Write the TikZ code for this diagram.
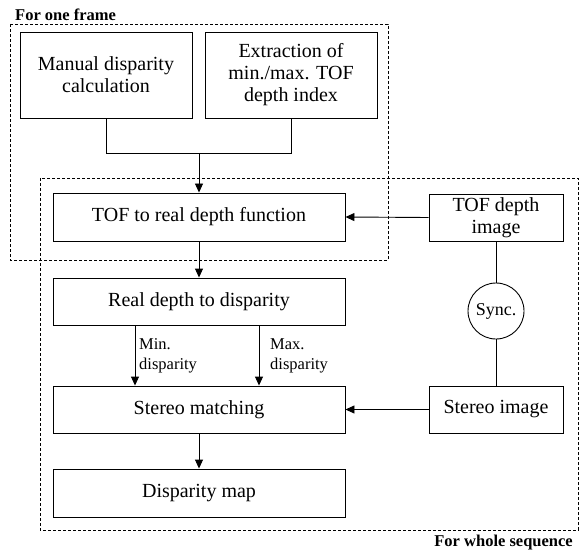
\documentclass[tikz,border=0pt]{standalone}
\usepackage{fontspec}
\setmainfont{Liberation Serif}
\usetikzlibrary{arrows.meta,calc}
\begin{document}
\begin{tikzpicture}[x=1pt,y=-1pt,
  box/.style={draw,line width=0.9pt,inner sep=0pt,align=center,font=\fontsize{20}{22}\selectfont},
  frame/.style={draw,line width=0.7pt,dash pattern=on 3pt off 2pt},
  conn/.style={line width=0.9pt},
  arr/.style={line width=0.9pt,-{Triangle[length=9pt,width=8pt]}},
  lab/.style={inner sep=0pt,align=left,anchor=north west,font=\fontsize{16.5}{20}\selectfont},
  ttl/.style={inner sep=0pt,font=\fontsize{16.5}{20}\selectfont\bfseries}]
\useasboundingbox (0,0) rectangle (588,553);
% frames
\draw[frame] (10,24) rectangle (388,260);
\draw[frame] (40,178) rectangle (578,530);
\node[ttl,anchor=base west] (t1) at (15,21) {For one frame};
\node[ttl,anchor=base east] (t2) at (573,546) {For whole sequence};
% boxes
\node[box,minimum width=172pt,minimum height=86pt] (man) at (106,75) {Manual disparity\\calculation};
\node[box,minimum width=172pt,minimum height=86pt] (ext) at (291,75) {Extraction of\\min./max. TOF\\depth index};
\node[box,minimum width=292pt,minimum height=48pt] (tof) at (199,217) {TOF to real depth function};
\node[box,minimum width=134pt,minimum height=47pt] (tofimg) at (496,217.5) {TOF depth\\image};
\node[box,minimum width=292pt,minimum height=47pt] (rd) at (199,301.5) {Real depth to disparity};
\node[box,minimum width=292pt,minimum height=47pt] (sm) at (199,409.5) {Stereo matching};
\node[box,minimum width=134pt,minimum height=47pt] (simg) at (496,409.5) {Stereo image};
\node[box,minimum width=292pt,minimum height=48pt] (dm) at (199,493) {Disparity map};
\node[draw,circle,line width=0.9pt,minimum size=56pt,inner sep=0pt,font=\fontsize{18}{20}\selectfont] (sync) at (496,311) {Sync.};
% connectors
\coordinate (mj) at (199,153);
\draw[conn] (man.south) -- (man.south |- mj) -- (ext.south |- mj) -- (ext.south);
\draw[arr] (mj) -- (tof.north);
\draw[arr] (tofimg.west) -- (tof.east);
\draw[arr] (tof.south) -- (rd.north);
\coordinate (minx) at (135,0);
\coordinate (maxx) at (259,0);
\draw[arr] (rd.south -| minx) -- (sm.north -| minx);
\draw[arr] (rd.south -| maxx) -- (sm.north -| maxx);
\node[lab] (minl) at (139,338) {Min.\\disparity};
\node[lab] (maxl) at (270,338) {Max.\\disparity};
\draw[arr] (simg.west) -- (sm.east);
\draw[arr] (sm.south) -- (dm.north);
\draw[conn] (tofimg.south) -- (sync.north);
\draw[conn] (sync.south) -- (simg.north);
\end{tikzpicture}
\end{document}
